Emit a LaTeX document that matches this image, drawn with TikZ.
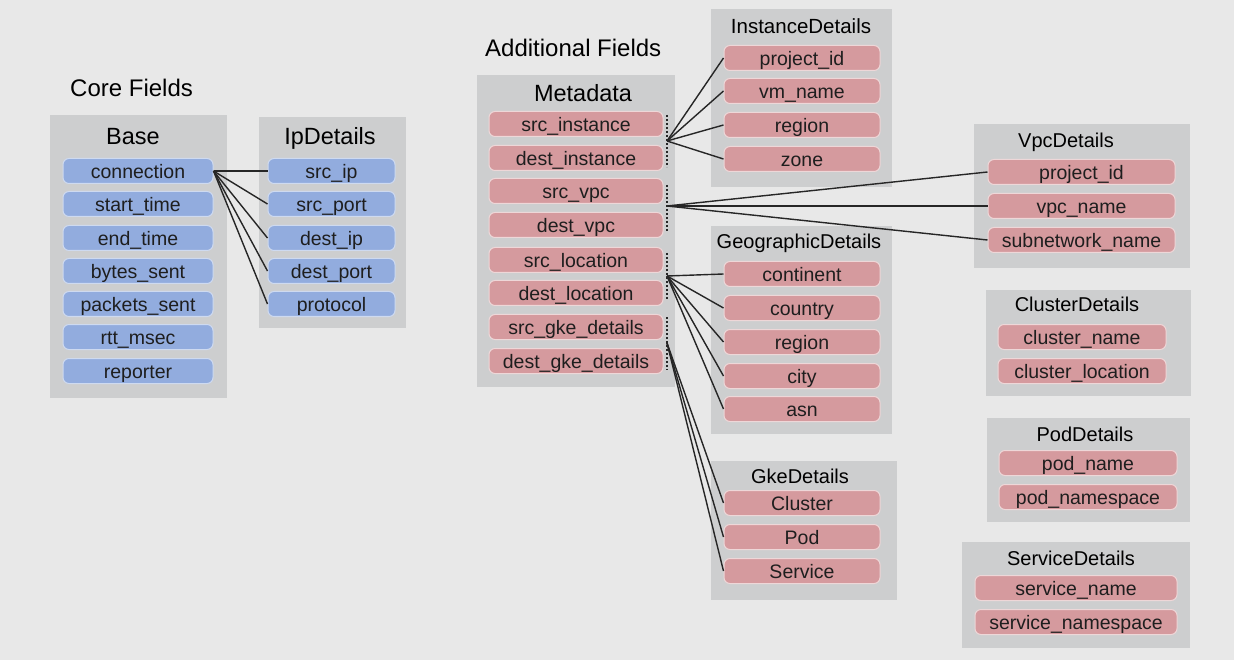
\documentclass[tikz,border=0pt]{standalone}
\usepackage{fontspec}
\setmainfont{Liberation Sans}
\definecolor{bgc}{HTML}{E8E8E8}
\definecolor{panelc}{HTML}{CDCECF}
\definecolor{bluef}{HTML}{92ACDE}
\definecolor{pinkf}{HTML}{D59A9E}
\definecolor{txt}{HTML}{1E1E1E}
\begin{document}
\begin{tikzpicture}[x=1pt,y=-1pt,
  panel/.style={fill=panelc, draw=none, anchor=north west, inner sep=0pt},
  fld/.style={rounded corners=6pt, line width=1pt, minimum height=25pt, inner sep=0pt,
    text height=15pt, text depth=0pt, font=\fontsize{19.5}{20}\selectfont, text=txt},
  bf/.style={fld, fill=bluef, draw=white!55!bluef},
  pf/.style={fld, fill=pinkf, draw=white!60!pinkf},
  bigtitle/.style={anchor=base, inner sep=0pt, font=\fontsize{23.5}{25}\selectfont, text=black},
  subtitle/.style={anchor=base, inner sep=0pt, font=\fontsize{20}{22}\selectfont, text=black},
  label/.style={anchor=base west, inner sep=0pt, font=\fontsize{24}{26}\selectfont, text=black},
  conn/.style={draw=black!85, line width=1.4pt},
  dots/.style={draw=black!85, line width=1.6pt, dash pattern=on 2pt off 2pt}]
\fill[bgc] (0,0) rectangle (1234,660);
\useasboundingbox (0,0) rectangle (1234,660);

% labels
\node[label] (corelbl) at (70,96.5) {Core Fields};
\node[label] (addlbl) at (485,56.5) {Additional Fields};

% panels
\node[panel, minimum width=177pt, minimum height=283pt] (basep) at (50,115) {};
\node[panel, minimum width=147pt, minimum height=211pt] (ipp) at (259,117) {};
\node[panel, minimum width=198pt, minimum height=312pt] (metap) at (477,75) {};
\node[panel, minimum width=181pt, minimum height=178pt] (instp) at (711,9) {};
\node[panel, minimum width=216pt, minimum height=144pt] (vpcp) at (974,124) {};
\node[panel, minimum width=181pt, minimum height=208pt] (geop) at (711,226) {};
\node[panel, minimum width=186pt, minimum height=139pt] (gkep) at (711,461) {};
\node[panel, minimum width=205pt, minimum height=106pt] (clup) at (986,290) {};
\node[panel, minimum width=203pt, minimum height=104pt] (podp) at (987,418) {};
\node[panel, minimum width=228pt, minimum height=106pt] (svcp) at (962,542) {};

% titles
\node[bigtitle] (baset) at (133,144.5) {Base};
\node[bigtitle] (ipt) at (330,144.5) {IpDetails};
\node[bigtitle] (metat) at (583,101.5) {Metadata};
\node[subtitle, font=\fontsize{20.5}{22}\selectfont] (instt) at (801,34) {InstanceDetails};
\node[subtitle] (vpct) at (1066,148) {VpcDetails};
\node[subtitle] (geot) at (799,249) {GeographicDetails};
\node[subtitle] (gket) at (800,483) {GkeDetails};
\node[subtitle] (clut) at (1077,312) {ClusterDetails};
\node[subtitle] (podt) at (1085,441) {PodDetails};
\node[subtitle] (svct) at (1071,565) {ServiceDetails};

% Base fields
\foreach \n/\t/\y in {bconn/connection/171, bstart/start\_time/204, bend/end\_time/238,
  bbytes/bytes\_sent/271, bpkts/packets\_sent/304, brtt/rtt\_msec/337, brep/reporter/371}
  \node[bf, minimum width=150pt] (\n) at (138,\y) {\t};

% IpDetails fields
\foreach \n/\t/\y in {isip/src\_ip/171, isport/src\_port/204, idip/dest\_ip/238,
  idport/dest\_port/271, iproto/protocol/304}
  \node[bf, minimum width=127pt] (\n) at (331.5,\y) {\t};

% Metadata fields
\foreach \n/\t/\y in {msi/src\_instance/124, mdi/dest\_instance/158, msv/src\_vpc/191,
  mdv/dest\_vpc/225, msl/src\_location/260, mdl/dest\_location/293,
  msg/src\_gke\_details/327, mdg/dest\_gke\_details/361}
  \node[pf, minimum width=174pt] (\n) at (576,\y) {\t};

% InstanceDetails
\foreach \n/\t/\y in {ipid/project\_id/58, ivm/vm\_name/91, ireg/region/125, izone/zone/159}
  \node[pf, minimum width=156pt] (\n) at (802,\y) {\t};

% VpcDetails
\foreach \n/\t/\y in {vpid/project\_id/172, vname/vpc\_name/206, vsub/subnetwork\_name/240}
  \node[pf, minimum width=187pt] (\n) at (1081.5,\y) {\t};

% GeographicDetails
\foreach \n/\t/\y in {gcont/continent/274, gctry/country/308, greg/region/342,
  gcity/city/376, gasn/asn/409}
  \node[pf, minimum width=156pt] (\n) at (802,\y) {\t};

% GkeDetails
\foreach \n/\t/\y in {kclu/Cluster/503, kpod/Pod/537, ksvc/Service/571}
  \node[pf, minimum width=156pt] (\n) at (802,\y) {\t};

% ClusterDetails
\node[pf, minimum width=168pt] (cname) at (1082,337) {cluster\_name};
\node[pf, minimum width=168pt] (cloc) at (1082,371) {cluster\_location};
% PodDetails
\node[pf, minimum width=178pt] (pname) at (1088,463) {pod\_name};
\node[pf, minimum width=178pt] (pns) at (1088,497) {pod\_namespace};
% ServiceDetails
\node[pf, minimum width=202pt] (sname) at (1076,588) {service\_name};
\node[pf, minimum width=202pt] (sns) at (1076,622) {service\_namespace};

% connectors Base -> IpDetails
\foreach \t in {isip, isport, idip, idport, iproto}
  \draw[conn] (bconn.east) -- (\t.west);

% Metadata connection points
\coordinate (mi) at (667,141);
\coordinate (mv) at (667,206);
\coordinate (ml) at (667,276);
\coordinate (mg) at (667,343);

% dotted brackets
\coordinate (d1a) at (667,115); \coordinate (d1b) at (667,167);
\coordinate (d2a) at (667,185); \coordinate (d2b) at (667,232);
\coordinate (d3a) at (667,253); \coordinate (d3b) at (667,300);
\coordinate (d4a) at (667,317); \coordinate (d4b) at (667,370);
\draw[dots] (d1a) -- (d1b);
\draw[dots] (d2a) -- (d2b);
\draw[dots] (d3a) -- (d3b);
\draw[dots] (d4a) -- (d4b);

\foreach \t in {ipid, ivm, ireg, izone} \draw[conn] (mi) -- (\t.west);
\foreach \t in {vpid, vname, vsub} \draw[conn] (mv) -- (\t.west);
\foreach \t in {gcont, gctry, greg, gcity, gasn} \draw[conn] (ml) -- (\t.west);
\foreach \t in {kclu, kpod, ksvc} \draw[conn] (mg) -- (\t.west);
\end{tikzpicture}
\end{document}
